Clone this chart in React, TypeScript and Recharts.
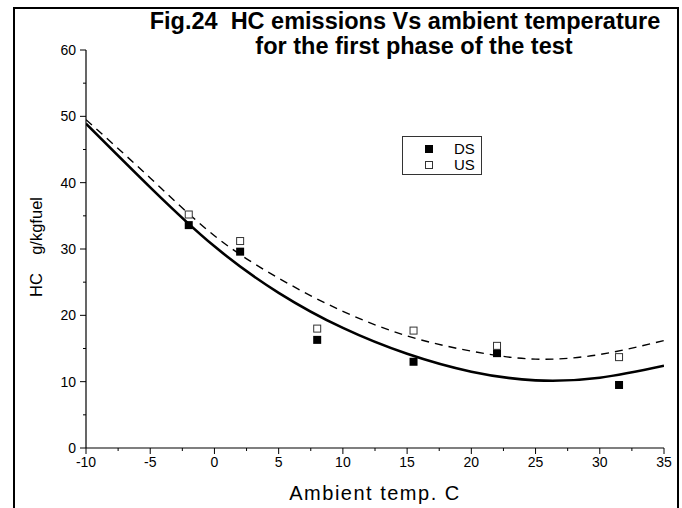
import React from "react";
import { ComposedChart, Line, Scatter, XAxis, YAxis } from "recharts";

const dsPoints = [
  { x: -2, y: 33.6 },
  { x: 2, y: 29.6 },
  { x: 8, y: 16.3 },
  { x: 15.5, y: 13.0 },
  { x: 22, y: 14.3 },
  { x: 31.5, y: 9.5 },
];

const usPoints = [
  { x: -2, y: 35.2 },
  { x: 2, y: 31.2 },
  { x: 8, y: 18.0 },
  { x: 15.5, y: 17.7 },
  { x: 22, y: 15.4 },
  { x: 31.5, y: 13.7 },
];

const dsFit = [
  { x: -10, y: 48.9 },
  { x: -5, y: 39.3 },
  { x: 0, y: 30.4 },
  { x: 5, y: 23.4 },
  { x: 10, y: 18.1 },
  { x: 15, y: 14.2 },
  { x: 20, y: 11.5 },
  { x: 25, y: 10.2 },
  { x: 30, y: 10.6 },
  { x: 35, y: 12.4 },
];

const usFit = [
  { x: -10, y: 49.5 },
  { x: -5, y: 40.7 },
  { x: 0, y: 32.0 },
  { x: 5, y: 25.6 },
  { x: 10, y: 20.6 },
  { x: 15, y: 16.9 },
  { x: 20, y: 14.6 },
  { x: 25, y: 13.4 },
  { x: 30, y: 14.1 },
  { x: 35, y: 16.2 },
];

const xTicks = [-10, -7.5, -5, -2.5, 0, 2.5, 5, 7.5, 10, 12.5, 15, 17.5, 20, 22.5, 25, 27.5, 30, 32.5, 35];
const yTicks = [0, 5, 10, 15, 20, 25, 30, 35, 40, 45, 50, 55, 60];

const titleLine1 = "Fig.24  HC emissions Vs ambient temperature";
const titleLine2 = "for the first phase of the test";
const xLabel = "Ambient temp. C";
const yLabel = "HC    g/kgfuel";
const seriesNames = ["DS", "US"];

const FONT = "'Liberation Sans', Arial, sans-serif";

const YTick = (props: any) => {
  const { x, y, payload } = props;
  const major = payload.value % 10 === 0;
  return (
    <g>
      <line x1={x} y1={y} x2={x - (major ? 6 : 3)} y2={y} stroke="#000" strokeWidth={1} />
      {major && (
        <text x={x - 10} y={y} dy="0.36em" textAnchor="end" fontSize={14} fontFamily={FONT} fill="#000">
          {payload.value}
        </text>
      )}
    </g>
  );
};

const XTick = (props: any) => {
  const { x, y, payload } = props;
  const major = payload.value % 5 === 0;
  return (
    <g>
      <line x1={x} y1={y} x2={x} y2={y + (major ? 6 : 3)} stroke="#000" strokeWidth={1} />
      {major && (
        <text x={x} y={y + 19} textAnchor="middle" fontSize={14} fontFamily={FONT} fill="#000">
          {payload.value}
        </text>
      )}
    </g>
  );
};

const FilledSquare = (props: any) => {
  const { cx, cy } = props;
  return <rect x={cx - 4} y={cy - 4} width={8} height={8} fill="#000" />;
};

const OpenSquare = (props: any) => {
  const { cx, cy } = props;
  return <rect x={cx - 3.5} y={cy - 3.5} width={7} height={7} fill="#fff" stroke="#333" strokeWidth={1} />;
};

export default function App() {
  return (
    <div
      style={{
        position: "absolute",
        left: 0,
        top: 0,
        width: 682,
        height: 508,
        overflow: "hidden",
        background: "#fff",
        fontFamily: FONT,
      }}
    >
      <div
        style={{
          position: "absolute",
          left: 13,
          top: 7,
          width: 662,
          height: 520,
          border: "2px solid #000",
        }}
      />
      <ComposedChart
        width={682}
        height={508}
        margin={{ top: 50, right: 18, bottom: 30, left: 40 }}
        style={{ position: "absolute", left: 0, top: 0 }}
      >
        <XAxis
          dataKey="x"
          type="number"
          domain={[-10, 35]}
          ticks={xTicks}
          interval={0}
          allowDataOverflow
          height={30}
          tickSize={0}
          tickMargin={0}
          tickLine={false}
          axisLine={{ stroke: "#000", strokeWidth: 1.2 }}
          tick={<XTick />}
        />
        <YAxis
          dataKey="y"
          type="number"
          domain={[0, 60]}
          ticks={yTicks}
          interval={0}
          allowDataOverflow
          width={46}
          tickSize={0}
          tickMargin={0}
          tickLine={false}
          axisLine={{ stroke: "#000", strokeWidth: 1.2 }}
          tick={<YTick />}
        />
        <Line
          data={dsFit}
          dataKey="y"
          type="natural"
          dot={false}
          stroke="#000"
          strokeWidth={2.6}
          isAnimationActive={false}
        />
        <Line
          data={usFit}
          dataKey="y"
          type="natural"
          dot={false}
          stroke="#000"
          strokeWidth={1.4}
          strokeDasharray="8 6"
          isAnimationActive={false}
        />
        <Scatter data={dsPoints} dataKey="y" shape={<FilledSquare />} isAnimationActive={false} />
        <Scatter data={usPoints} dataKey="y" shape={<OpenSquare />} isAnimationActive={false} />
      </ComposedChart>

      <div
        style={{
          position: "absolute",
          left: 405 - 300,
          width: 600,
          top: 8,
          textAlign: "center",
          fontSize: 23.5,
          fontWeight: "bold",
          lineHeight: "27px",
          whiteSpace: "pre",
        }}
      >
        {titleLine1}
      </div>
      <div
        style={{
          position: "absolute",
          left: 414 - 300,
          width: 600,
          top: 33,
          textAlign: "center",
          fontSize: 23.5,
          fontWeight: "bold",
          lineHeight: "27px",
          whiteSpace: "pre",
        }}
      >
        {titleLine2}
      </div>

      <div
        style={{
          position: "absolute",
          left: 402,
          top: 136,
          width: 78,
          height: 37,
          border: "1px solid #333",
          background: "#fff",
        }}
      >
        <div style={{ position: "absolute", left: 22, top: 8, width: 8, height: 8, background: "#000" }} />
        <div
          style={{
            position: "absolute",
            left: 22,
            top: 24,
            width: 6,
            height: 6,
            background: "#fff",
            border: "1px solid #333",
          }}
        />
        <div style={{ position: "absolute", left: 51, top: 3, fontSize: 15, lineHeight: "17px" }}>{seriesNames[0]}</div>
        <div style={{ position: "absolute", left: 51, top: 19, fontSize: 15, lineHeight: "17px" }}>{seriesNames[1]}</div>
      </div>

      <div
        style={{
          position: "absolute",
          left: 375 - 150,
          width: 300,
          top: 482,
          textAlign: "center",
          fontSize: 20,
          lineHeight: "22px",
          letterSpacing: "1.5px",
        }}
      >
        {xLabel}
      </div>

      <div
        style={{
          position: "absolute",
          left: 36 - 100,
          top: 247 - 10,
          width: 200,
          height: 20,
          textAlign: "center",
          fontSize: 16.5,
          lineHeight: "20px",
          whiteSpace: "pre",
          transform: "rotate(-90deg)",
          transformOrigin: "100px 10px",
        }}
      >
        {yLabel}
      </div>
    </div>
  );
}
